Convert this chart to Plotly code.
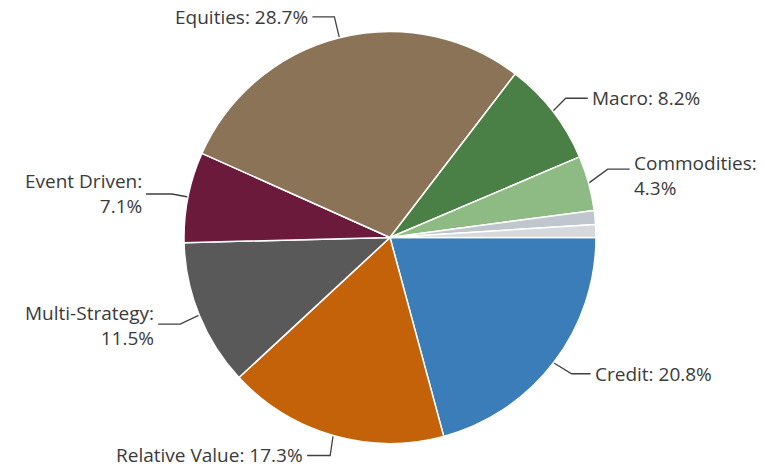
import math
import plotly.graph_objects as go

# ---- data ----
categories = ["Credit", "Relative Value", "Multi-Strategy", "Event Driven",
              "Equities", "Macro", "Commodities", "Other A", "Other B"]
shares = [20.8, 17.3, 11.5, 7.1, 28.7, 8.2, 4.3, 1.1, 1.0]
label_lines = [
    ["Credit: 20.8%"],
    ["Relative Value: 17.3%"],
    ["Multi-Strategy:", "11.5%"],
    ["Event Driven:", "7.1%"],
    ["Equities: 28.7%"],
    ["Macro: 8.2%"],
    ["Commodities:", "4.3%"],
    None,
    None,
]

# ---- style / layout ----
colors = ["#3A7DB8", "#C4620A", "#595959", "#6B1A3C", "#8B7358",
          "#4A7F45", "#8DBB83", "#BFC6CD", "#D5D9DD"]
W, H = 765, 469
CX, CY, R = 390.0, 237.5, 206.0
# leader geometry: elbow offset from slice edge (dx, dy), horizontal run, text dy, text align
leader = {
    "Credit": (18, 11, 19, 0, "left"),
    "Relative Value": (-3, 20, -23, -1, "right"),
    "Multi-Strategy": (-19, 9, -22, 1, "right"),
    "Event Driven": (-16, -3, -26, 0, "right"),
    "Equities": (-5, -21, -22, 0, "right"),
    "Macro": (13, -13, 22, 0, "left"),
    "Commodities": (19, -14, 22, 6, "left"),
}
FONT = dict(family="Open Sans", size=19, color="#3A3A3A")

fig = go.Figure()
fig.add_trace(go.Pie(
    labels=categories, values=shares, sort=False, direction="clockwise",
    rotation=90, textinfo="none", hoverinfo="label+value",
    marker=dict(colors=colors, line=dict(color="white", width=1.5)),
    domain=dict(x=[(CX - R) / W, (CX + R) / W],
                y=[1 - (CY + R) / H, 1 - (CY - R) / H]),
    showlegend=False,
))

total = sum(shares)
cum = 0.0
lx, ly = [], []
annotations = []
for cat, val, lines in zip(categories, shares, label_lines):
    mid = (cum + val / 2) / total
    cum += val
    if lines is None:
        continue
    th = 2 * math.pi * mid
    ex, ey = CX + R * math.cos(th), CY + R * math.sin(th)
    dx, dy, run, tdy, align = leader[cat]
    bx, by = ex + dx, ey + dy
    fx = bx + run
    lx += [ex, bx, fx, None]
    ly += [ey, by, by, None]
    annotations.append(dict(
        x=fx + (2 if run > 0 else -2), y=by + tdy, xref="x", yref="y",
        text="<br>".join(lines), showarrow=False, align=align,
        xanchor="left" if run > 0 else "right", yanchor="middle", font=FONT))

fig.add_trace(go.Scatter(x=lx, y=ly, mode="lines", hoverinfo="skip",
                         line=dict(color="#404040", width=1.3), showlegend=False))

fig.update_layout(
    width=W, height=H, margin=dict(l=0, r=0, t=0, b=0),
    paper_bgcolor="white", plot_bgcolor="rgba(0,0,0,0)",
    xaxis=dict(range=[0, W], visible=False, fixedrange=True),
    yaxis=dict(range=[H, 0], visible=False, fixedrange=True),
    annotations=annotations,
)
fig.write_html("out.html", config={"displayModeBar": False},
               post_script="document.body.style.margin='0';document.body.style.overflow='hidden';")
